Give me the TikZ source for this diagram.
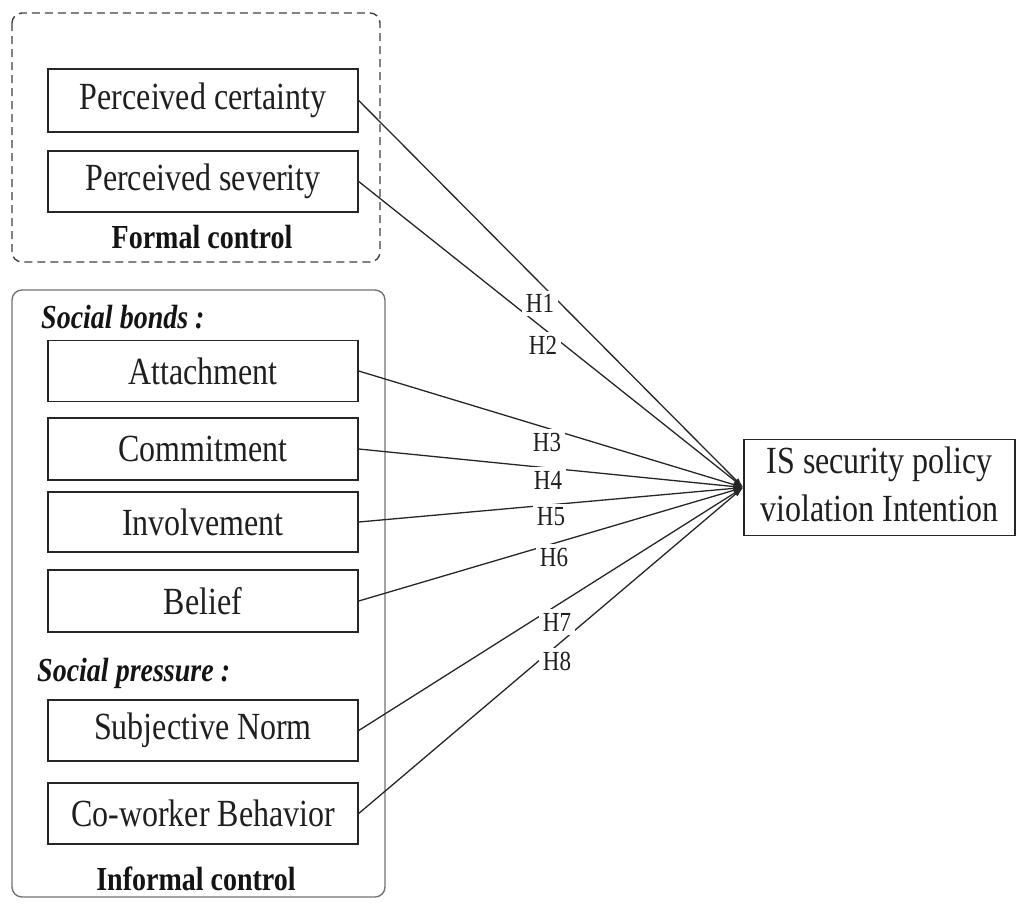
\documentclass[tikz,border=0pt]{standalone}
\usepackage{fontspec}
\setmainfont{Liberation Serif}
\usepackage{graphicx}
\usetikzlibrary{arrows.meta}
% slightly tall lettering used throughout the model
\newcommand\tall[1]{\scalebox{1}[1.2]{#1}}
\begin{document}
\begin{tikzpicture}[x=1pt,y=-1pt,
  factor/.style={draw=black!85, line width=1.4pt, minimum width=310pt,
    inner sep=0pt, font=\fontsize{32}{40}\selectfont, text=black!88},
  outcome/.style={factor, minimum width=271pt, minimum height=91pt},
  grouptitle/.style={font=\fontsize{28}{32}\selectfont\bfseries, text=black!92},
  subhead/.style={font=\fontsize{28}{32}\selectfont\bfseries\itshape,
    text=black!92, anchor=west, inner sep=0pt},
  hyp/.style={font=\fontsize{23}{26}\selectfont, fill=white, inner sep=3.5pt,
    text=black!88},
  link/.style={line width=1.3pt, draw=black!85, -{Latex[length=10pt,width=6pt]}},
  groupbox/.style={rounded corners=10pt, line width=1.4pt},
]
\useasboundingbox (0,0) rectangle (1017,903);

% control groups
\draw[groupbox, draw=black!75, dashed, dash pattern=on 8pt off 5pt]
  (12,13) rectangle (380,262);
\draw[groupbox, draw=black!55] (12,290) rectangle (385,897);

% formal control constructs
\node[factor, minimum height=63pt] (pc) at (203,100.5) {\tall{Perceived certainty}};
\node[factor, minimum height=61pt] (ps) at (203,181.5) {\tall{Perceived severity}};
\node[grouptitle] (fc) at (202,237) {\tall{Formal control}};

% informal control constructs
\node[subhead] (sb) at (41,317) {\tall{Social bonds :}};
\node[factor, minimum height=61pt] (att) at (203,371) {\tall{Attachment}};
\node[factor, minimum height=62pt] (com) at (203,449) {\tall{Commitment}};
\node[factor, minimum height=60pt] (inv) at (203,522) {\tall{Involvement}};
\node[factor, minimum height=62pt] (bel) at (203,601) {\tall{Belief}};
\node[subhead] (sp) at (37,673) {\tall{Social pressure :}};
\node[factor, minimum height=61pt] (sn) at (203,730.5) {\tall{Subjective Norm}};
\node[factor, minimum height=61pt] (cw) at (203,813.5) {\tall{Co-worker Behavior}};
\node[grouptitle] (ic) at (196,879) {\tall{Informal control}};

% dependent variable
\node[outcome] (dv) at (879.5,487.5)
  {\tall{\begin{tabular}{@{}c@{}}IS security policy\\violation Intention\end{tabular}}};

% hypothesised paths
\foreach \src in {pc,ps,att,com,inv,bel,sn,cw}
  \draw[link] (\src.east) -- (dv.west);

% hypothesis labels
\node[hyp] (h1) at (540,303.5) {\tall{H1}};
\node[hyp] (h2) at (543,345) {\tall{H2}};
\node[hyp] (h3) at (547,442) {\tall{H3}};
\node[hyp] (h4) at (548,480) {\tall{H4}};
\node[hyp] (h5) at (551,517) {\tall{H5}};
\node[hyp] (h6) at (554,557) {\tall{H6}};
\node[hyp] (h7) at (557,622) {\tall{H7}};
\node[hyp] (h8) at (557,661) {\tall{H8}};
\end{tikzpicture}
\end{document}
